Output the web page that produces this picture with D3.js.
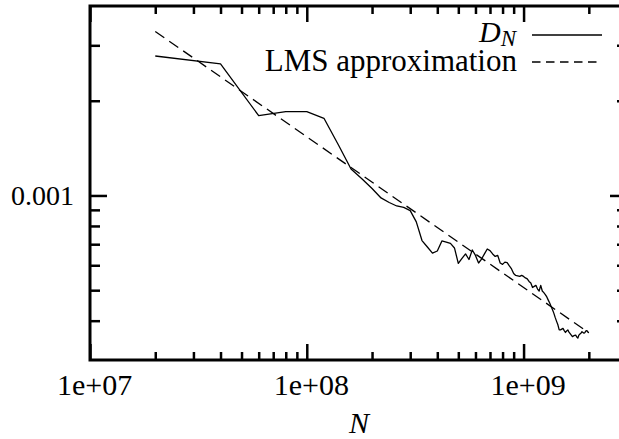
<!DOCTYPE html>
<html>
<head>
<meta charset="utf-8">
<script src="https://cdn.jsdelivr.net/npm/d3@7"></script>
<style>
  body { margin: 0; background: #fff; }
  svg { display: block; }
</style>
</head>
<body>
<figure style="margin:0"></figure>
<script>
const width = 619
const height = 439
const serif = "'Liberation Serif'"

// sample sizes N, in millions
const nMillions = [
  20, 40, 60, 80, 100, 120, 140, 160, 180, 200,
  220, 240, 260, 280, 300, 320, 340, 360, 380, 400,
  420, 440, 460, 480, 500, 520, 540, 560, 580, 600,
  620, 640, 660, 680, 700, 720, 740, 760, 780, 800,
  820, 840, 860, 880, 900, 920, 940, 960, 980, 1000,
  1020, 1040, 1060, 1080, 1100, 1120, 1140, 1160, 1180, 1200,
  1220, 1240, 1260, 1280, 1300, 1320, 1340, 1360, 1380, 1400,
  1420, 1440, 1460, 1480, 1500, 1520, 1540, 1560, 1580, 1600,
  1620, 1640, 1660, 1680, 1700, 1720, 1740, 1760, 1780, 1800,
  1820, 1840, 1860, 1880, 1900, 1920, 1940, 1960, 1980, 2000
]

// D_N
const dValues = [
  0.002774, 0.002618, 0.001793, 0.001846, 0.001846, 0.001759, 0.001447, 0.001214, 0.001128, 0.001052,
  0.000982, 0.000950, 0.000926, 0.000916, 0.000895, 0.000824, 0.000719, 0.000686, 0.000656, 0.000666,
  0.000717, 0.000711, 0.000704, 0.000681, 0.000608, 0.000631, 0.000652, 0.000626, 0.000671, 0.000645,
  0.000610, 0.000628, 0.000652, 0.000676, 0.000668, 0.000652, 0.000640, 0.000645, 0.000610, 0.000604,
  0.000614, 0.000612, 0.000597, 0.000584, 0.000565, 0.000557, 0.000555, 0.000553, 0.000557, 0.000553,
  0.000547, 0.000543, 0.000533, 0.000527, 0.000510, 0.000514, 0.000518, 0.000504, 0.000497, 0.000518,
  0.000497, 0.000491, 0.000484, 0.000476, 0.000465, 0.000455, 0.000444, 0.000433, 0.000422, 0.000409,
  0.000398, 0.000388, 0.000374, 0.000374, 0.000376, 0.000378, 0.000372, 0.000367, 0.000371, 0.000374,
  0.000368, 0.000364, 0.000360, 0.000356, 0.000358, 0.000359, 0.000360, 0.000355, 0.000352, 0.000360,
  0.000363, 0.000365, 0.000369, 0.000367, 0.000365, 0.000367, 0.000371, 0.000372, 0.000368, 0.000366
]

// LMS fit, a straight line in log-log: its two end points
const lmsN = [2e7, 2e9]
const lmsD = [0.00332, 0.000366]

const xMajor = [1e7, 1e8, 1e9]
const xLabels = ['1e+07', '1e+08', '1e+09']
const xMinor = [2e7, 3e7, 4e7, 5e7, 6e7, 7e7, 8e7, 9e7, 2e8, 3e8, 4e8, 5e8, 6e8, 7e8, 8e8, 9e8, 2e9]
const yMajor = [0.001]
const yLabels = ['0.001']
const yMinor = [0.0004, 0.0005, 0.0006, 0.0007, 0.0008, 0.0009, 0.002, 0.003]

const plotLeft = 90
const plotRight = 627
const plotTop = 6
const plotBottom = 360

const x = d3.scaleLog().domain([1e7, 3e9]).range([plotLeft, plotRight])
const y = d3.scaleLog().domain([0.0003, 0.004]).range([plotBottom, plotTop])

const svg = d3.select('figure').append('svg')
  .attr('width', width)
  .attr('height', height)

const tickStyle = g => {
  g.attr('font-family', null)
  g.select('.domain').remove()
  g.selectAll('.tick line').attr('stroke', '#000').attr('stroke-width', 2.5)
}

// bottom axis: major with labels, then minor
svg.append('g')
  .attr('transform', `translate(0,${plotBottom})`)
  .call(d3.axisBottom(x).tickValues(xMajor).tickSizeInner(-16).tickSizeOuter(0)
    .tickFormat((d, i) => xLabels[i]))
  .call(tickStyle)
  .call(g => g.selectAll('.tick text')
    .attr('y', 35).attr('dy', 0).attr('x', 4)
    .style('font-family', serif)
    .style('font-size', '30px'))

svg.append('g')
  .attr('transform', `translate(0,${plotBottom})`)
  .call(d3.axisBottom(x).tickValues(xMinor).tickSizeInner(-8).tickSizeOuter(0).tickFormat(''))
  .call(tickStyle)

// top axis, ticks only
svg.append('g')
  .attr('transform', `translate(0,${plotTop})`)
  .call(d3.axisTop(x).tickValues(xMajor).tickSizeInner(-16).tickSizeOuter(0).tickFormat(''))
  .call(tickStyle)

svg.append('g')
  .attr('transform', `translate(0,${plotTop})`)
  .call(d3.axisTop(x).tickValues(xMinor).tickSizeInner(-8).tickSizeOuter(0).tickFormat(''))
  .call(tickStyle)

// left axis
svg.append('g')
  .attr('transform', `translate(${plotLeft},0)`)
  .call(d3.axisLeft(y).tickValues(yMajor).tickSizeInner(-17).tickSizeOuter(0)
    .tickFormat((d, i) => yLabels[i]))
  .call(tickStyle)
  .call(g => g.selectAll('.tick text')
    .attr('x', -16).attr('dy', 9.5)
    .style('font-family', serif)
    .style('font-size', '28px'))

svg.append('g')
  .attr('transform', `translate(${plotLeft},0)`)
  .call(d3.axisLeft(y).tickValues(yMinor).tickSizeInner(-10).tickSizeOuter(0).tickFormat(''))
  .call(tickStyle)

// right axis, ticks only
svg.append('g')
  .attr('transform', `translate(${plotRight},0)`)
  .call(d3.axisRight(y).tickValues(yMajor).tickSizeInner(-17).tickSizeOuter(0).tickFormat(''))
  .call(tickStyle)

svg.append('g')
  .attr('transform', `translate(${plotRight},0)`)
  .call(d3.axisRight(y).tickValues(yMinor).tickSizeInner(-10).tickSizeOuter(0).tickFormat(''))
  .call(tickStyle)

// frame
svg.append('rect')
  .attr('x', plotLeft)
  .attr('y', plotTop)
  .attr('width', plotRight - plotLeft)
  .attr('height', plotBottom - plotTop)
  .attr('fill', 'none')
  .attr('stroke', '#000')
  .attr('stroke-width', 3)

// series
const dn = nMillions.map((n, i) => ({ n: n * 1e6, d: dValues[i] }))
const lms = lmsN.map((n, i) => ({ n: n, d: lmsD[i] }))

const line = d3.line()
  .x(p => x(p.n))
  .y(p => y(p.d))

svg.append('path')
  .datum(lms)
  .attr('d', line)
  .attr('fill', 'none')
  .attr('stroke', '#000')
  .attr('stroke-width', 1.3)
  .attr('stroke-dasharray', '11,6')

svg.append('path')
  .datum(dn)
  .attr('d', line)
  .attr('fill', 'none')
  .attr('stroke', '#000')
  .attr('stroke-width', 1.3)
  .attr('stroke-linejoin', 'round')

// legend
const legend = svg.append('g')
  .style('font-family', serif)

const dnLabel = legend.append('text')
  .attr('x', 516)
  .attr('y', 42)
  .attr('text-anchor', 'end')
  .style('font-size', '30px')
dnLabel.append('tspan').style('font-style', 'italic').text('D')
dnLabel.append('tspan')
  .style('font-style', 'italic')
  .style('font-size', '23px')
  .attr('dy', 4)
  .text('N')

legend.append('line')
  .attr('x1', 532).attr('x2', 602)
  .attr('y1', 35).attr('y2', 35)
  .attr('stroke', '#000')
  .attr('stroke-width', 1.3)

legend.append('text')
  .attr('x', 517)
  .attr('y', 70.5)
  .attr('text-anchor', 'end')
  .style('font-size', '31px')
  .text('LMS approximation')

legend.append('line')
  .attr('x1', 532).attr('x2', 602)
  .attr('y1', 62).attr('y2', 62)
  .attr('stroke', '#000')
  .attr('stroke-width', 1.3)
  .attr('stroke-dasharray', '8.5,5.5')

// axis title
svg.append('text')
  .attr('x', 359)
  .attr('y', 433)
  .attr('text-anchor', 'middle')
  .style('font-family', serif)
  .style('font-size', '30px')
  .style('font-style', 'italic')
  .text('N')
</script>
</body>
</html>
